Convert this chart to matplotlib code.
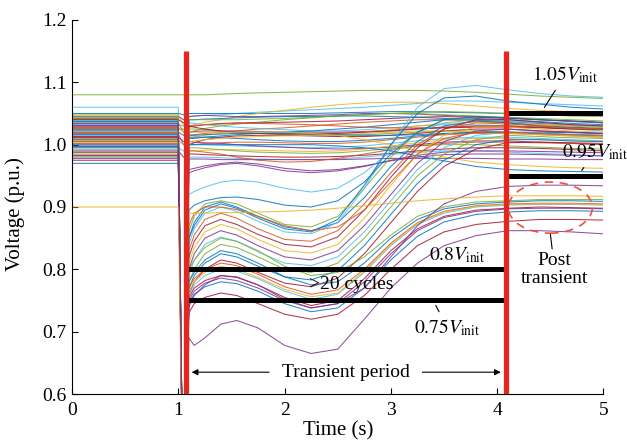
import matplotlib.pyplot as plt
from matplotlib.patches import Ellipse

plt.rcParams["font.family"] = "Liberation Serif"
plt.rcParams["mathtext.fontset"] = "stix"

# MATLAB default line colours
PALETTE = {"b": "#0072BD", "o": "#D95319", "y": "#EDB120", "p": "#7E2F8E",
           "g": "#77AC30", "c": "#4DBEEE", "r": "#A2142F"}

# sample times: steady state, fault inception, fault bottom, then recovery
T_PRE = [0.0, 1.0, 1.05]
T_POST = [1.1, 1.15, 1.25, 1.4, 1.55, 1.75, 2.0, 2.25, 2.5, 2.75,
          3.0, 3.25, 3.5, 3.8, 4.1, 4.4, 4.7, 5.0]

# buses that stay inside the normal band
HIGH_COLOR = "cbypgrbocpygrbocpygrbocpygrb"
HIGH_PRE = [1.06, 1.05, 1.048, 1.045, 1.042, 1.04, 1.037, 1.035, 1.032, 1.03,
            1.027, 1.025, 1.022, 1.02, 1.017, 1.015, 1.012, 1.01, 1.007, 1.005,
            1.0, 0.997, 0.995, 0.99, 0.985, 0.98, 0.975, 0.97]
HIGH_DIP = [0.35, 1.048, 1.03, 1.04, 0.35, 1.035, 0.35, 1.02, 1.03, 0.35,
            1.02, 1.025, 0.35, 1.015, 1.0, 0.35, 1.005, 0.35, 1.0, 0.35,
            0.35, 0.35, 0.99, 0.98, 0.35, 0.35, 0.35, 0.35]
HIGH_POST = [
    [1.045, 1.046, 1.047, 1.048, 1.05, 1.052, 1.054, 1.056, 1.058, 1.06, 1.063, 1.066, 1.07, 1.07, 1.068, 1.066, 1.064, 1.062],
    [1.05, 1.05, 1.05, 1.05, 1.05, 1.05, 1.05, 1.05, 1.051, 1.052, 1.053, 1.053, 1.052, 1.051, 1.05, 1.049, 1.048, 1.048],
    [1.03, 1.032, 1.036, 1.04, 1.045, 1.05, 1.055, 1.06, 1.064, 1.067, 1.068, 1.068, 1.066, 1.062, 1.058, 1.055, 1.053, 1.05],
    [1.045, 1.046, 1.047, 1.046, 1.045, 1.045, 1.046, 1.047, 1.048, 1.05, 1.05, 1.049, 1.047, 1.045, 1.043, 1.04, 1.038, 1.036],
    [1.02, 1.022, 1.026, 1.03, 1.033, 1.036, 1.04, 1.043, 1.046, 1.048, 1.05, 1.052, 1.053, 1.052, 1.05, 1.048, 1.046, 1.045],
    [1.03, 1.03, 1.032, 1.034, 1.035, 1.035, 1.036, 1.037, 1.038, 1.04, 1.042, 1.044, 1.045, 1.044, 1.042, 1.04, 1.038, 1.035],
    [1.04, 1.04, 1.041, 1.042, 1.043, 1.044, 1.045, 1.045, 1.046, 1.046, 1.045, 1.044, 1.042, 1.04, 1.037, 1.034, 1.032, 1.03],
    [1.015, 1.016, 1.018, 1.02, 1.022, 1.025, 1.027, 1.03, 1.033, 1.036, 1.038, 1.04, 1.04, 1.038, 1.035, 1.032, 1.03, 1.028],
    [1.035, 1.034, 1.032, 1.03, 1.028, 1.026, 1.024, 1.022, 1.022, 1.024, 1.027, 1.03, 1.032, 1.032, 1.03, 1.028, 1.025, 1.022],
    [1.02, 1.021, 1.022, 1.022, 1.022, 1.021, 1.02, 1.02, 1.02, 1.021, 1.023, 1.026, 1.028, 1.03, 1.03, 1.028, 1.026, 1.025],
    [1.01, 1.012, 1.015, 1.018, 1.02, 1.02, 1.019, 1.018, 1.018, 1.02, 1.024, 1.03, 1.034, 1.036, 1.035, 1.032, 1.03, 1.028],
    [1.025, 1.025, 1.024, 1.022, 1.02, 1.018, 1.016, 1.015, 1.015, 1.016, 1.018, 1.02, 1.022, 1.022, 1.02, 1.018, 1.016, 1.015],
    [1.0, 1.003, 1.008, 1.012, 1.014, 1.015, 1.015, 1.014, 1.013, 1.013, 1.015, 1.018, 1.022, 1.025, 1.025, 1.022, 1.02, 1.018],
    [1.012, 1.012, 1.012, 1.011, 1.01, 1.008, 1.006, 1.005, 1.005, 1.007, 1.01, 1.014, 1.017, 1.02, 1.02, 1.018, 1.016, 1.014],
    [1.0, 1.0, 1.002, 1.003, 1.004, 1.004, 1.003, 1.002, 1.002, 1.004, 1.008, 1.012, 1.016, 1.018, 1.018, 1.016, 1.014, 1.012],
    [1.0, 1.0, 1.0, 0.999, 0.998, 0.997, 0.996, 0.995, 0.996, 0.998, 1.002, 1.006, 1.01, 1.012, 1.012, 1.01, 1.008, 1.006],
    [1.005, 1.004, 1.003, 1.002, 1.0, 0.998, 0.996, 0.994, 0.993, 0.994, 0.996, 1.0, 1.004, 1.006, 1.006, 1.004, 1.002, 1.0],
    [0.99, 0.99, 0.991, 0.992, 0.992, 0.991, 0.99, 0.989, 0.99, 0.993, 0.998, 1.003, 1.008, 1.01, 1.01, 1.008, 1.006, 1.005],
    [0.995, 0.995, 0.994, 0.992, 0.99, 0.988, 0.987, 0.986, 0.987, 0.99, 0.994, 0.998, 1.0, 1.0, 0.998, 0.996, 0.994, 0.993],
    [0.985, 0.985, 0.984, 0.983, 0.982, 0.981, 0.98, 0.98, 0.981, 0.983, 0.986, 0.99, 0.993, 0.995, 0.995, 0.994, 0.992, 0.99],
    [1.01, 1.01, 1.012, 1.014, 1.016, 1.018, 1.02, 1.022, 1.025, 1.028, 1.032, 1.036, 1.04, 1.042, 1.04, 1.037, 1.034, 1.032],
    [1.028, 1.03, 1.032, 1.033, 1.034, 1.034, 1.033, 1.032, 1.03, 1.028, 1.027, 1.027, 1.028, 1.03, 1.03, 1.028, 1.027, 1.025],
    [0.98, 0.98, 0.98, 0.979, 0.978, 0.977, 0.976, 0.976, 0.977, 0.98, 0.984, 0.988, 0.99, 0.99, 0.988, 0.986, 0.984, 0.982],
    [0.977, 0.977, 0.977, 0.976, 0.976, 0.976, 0.976, 0.976, 0.976, 0.977, 0.978, 0.978, 0.978, 0.978, 0.977, 0.977, 0.976, 0.976],
    [1.005, 1.006, 1.008, 1.01, 1.012, 1.013, 1.014, 1.015, 1.016, 1.018, 1.02, 1.022, 1.022, 1.02, 1.018, 1.016, 1.014, 1.012],
    [1.04, 1.04, 1.04, 1.04, 1.04, 1.041, 1.042, 1.044, 1.046, 1.048, 1.05, 1.05, 1.048, 1.046, 1.044, 1.042, 1.04, 1.038],
    [1.03, 1.028, 1.025, 1.022, 1.02, 1.018, 1.017, 1.017, 1.018, 1.02, 1.022, 1.025, 1.027, 1.028, 1.028, 1.027, 1.025, 1.024],
    [1.015, 1.015, 1.016, 1.017, 1.018, 1.018, 1.018, 1.017, 1.016, 1.015, 1.015, 1.016, 1.018, 1.02, 1.02, 1.02, 1.019, 1.018],
]

# buses with a shallow sag
MID_COLOR = "ppocby"
MID_PRE = [1.002, 1.028, 1.018, 1.044, 1.008, 0.992]
MID_DIP = [0.35, 0.35, 0.35, 0.35, 0.35, 0.35]
MID_POST = [
    [0.955, 0.958, 0.963, 0.968, 0.97, 0.966, 0.958, 0.955, 0.958, 0.965, 0.975, 0.983, 0.988, 0.99, 0.99, 0.989, 0.988, 0.987],
    [0.96, 0.962, 0.966, 0.97, 0.972, 0.969, 0.962, 0.958, 0.96, 0.966, 0.974, 0.98, 0.984, 0.985, 0.985, 0.984, 0.983, 0.982],
    [0.99, 0.99, 0.988, 0.985, 0.98, 0.975, 0.972, 0.973, 0.978, 0.985, 0.992, 0.998, 1.002, 1.004, 1.004, 1.003, 1.002, 1.0],
    [0.92, 0.925, 0.932, 0.94, 0.943, 0.94, 0.93, 0.924, 0.93, 0.955, 0.99, 1.02, 1.035, 1.04, 1.038, 1.035, 1.032, 1.03],
    [1.0, 1.0, 1.0, 1.0, 1.0, 1.0, 1.0, 1.0, 0.998, 0.995, 0.99, 0.982, 0.974, 0.965, 0.96, 0.958, 0.957, 0.956],
    [1.02, 1.02, 1.02, 1.02, 1.02, 1.02, 1.02, 1.018, 1.015, 1.008, 1.0, 0.99, 0.98, 0.972, 0.968, 0.965, 0.963, 0.962],
]

# deep sag, full recovery
UP_COLOR = "gbcborypcgbrob"
UP_PRE = [1.046, 1.038, 1.033, 1.024, 1.019, 1.013, 1.006, 0.998, 0.993, 0.987,
          0.982, 1.041, 1.029, 1.016]
UP_DIP = [0.35] * 14
UP_POST = [
    [0.86, 0.885, 0.905, 0.91, 0.905, 0.89, 0.872, 0.868, 0.885, 0.93, 0.98, 1.02, 1.04, 1.04, 1.035, 1.03, 1.027, 1.025],
    [0.85, 0.875, 0.9, 0.908, 0.9, 0.885, 0.868, 0.862, 0.875, 0.915, 0.965, 1.005, 1.03, 1.038, 1.035, 1.03, 1.028, 1.026],
    [0.84, 0.865, 0.89, 0.9, 0.893, 0.877, 0.86, 0.857, 0.875, 0.93, 1.0, 1.06, 1.09, 1.095, 1.088, 1.082, 1.078, 1.076],
    [0.85, 0.87, 0.895, 0.905, 0.898, 0.882, 0.865, 0.86, 0.88, 0.935, 1.0, 1.05, 1.075, 1.078, 1.07, 1.065, 1.06, 1.057],
    [0.83, 0.855, 0.88, 0.89, 0.882, 0.865, 0.848, 0.845, 0.862, 0.905, 0.955, 1.0, 1.025, 1.035, 1.033, 1.03, 1.027, 1.025],
    [0.82, 0.845, 0.87, 0.88, 0.872, 0.856, 0.84, 0.836, 0.852, 0.895, 0.948, 0.995, 1.025, 1.04, 1.04, 1.036, 1.032, 1.03],
    [0.81, 0.835, 0.86, 0.872, 0.865, 0.848, 0.83, 0.826, 0.84, 0.882, 0.935, 0.985, 1.015, 1.028, 1.028, 1.025, 1.022, 1.02],
    [0.8, 0.825, 0.85, 0.862, 0.855, 0.838, 0.82, 0.815, 0.83, 0.87, 0.92, 0.97, 1.005, 1.022, 1.025, 1.022, 1.02, 1.018],
    [0.79, 0.815, 0.84, 0.852, 0.845, 0.828, 0.81, 0.806, 0.82, 0.86, 0.91, 0.96, 0.995, 1.015, 1.02, 1.018, 1.016, 1.015],
    [0.78, 0.8, 0.825, 0.84, 0.835, 0.82, 0.8, 0.795, 0.81, 0.85, 0.9, 0.95, 0.985, 1.008, 1.015, 1.013, 1.011, 1.01],
    [0.77, 0.79, 0.81, 0.825, 0.82, 0.805, 0.788, 0.783, 0.798, 0.838, 0.888, 0.938, 0.975, 1.0, 1.008, 1.008, 1.006, 1.005],
    [0.76, 0.78, 0.8, 0.815, 0.81, 0.795, 0.778, 0.772, 0.786, 0.825, 0.875, 0.925, 0.965, 0.993, 1.003, 1.004, 1.003, 1.002],
    [0.87, 0.89, 0.9, 0.9, 0.896, 0.885, 0.87, 0.862, 0.868, 0.895, 0.94, 0.985, 1.01, 1.02, 1.02, 1.018, 1.016, 1.015],
    [0.895, 0.903, 0.91, 0.915, 0.916, 0.912, 0.903, 0.9, 0.91, 0.94, 0.985, 1.02, 1.04, 1.045, 1.043, 1.04, 1.037, 1.035],
]

# deep sag, settles around 0.9 p.u.
LOW_COLOR = "gbocrybprp"
LOW_PRE = [1.043, 1.034, 1.026, 1.021, 1.011, 1.003, 0.996, 0.988, 0.983, 0.978]
LOW_DIP = [0.35] * 10
LOW_POST = [
    [0.8, 0.815, 0.835, 0.85, 0.845, 0.83, 0.805, 0.79, 0.795, 0.82, 0.855, 0.885, 0.9, 0.908, 0.91, 0.912, 0.912, 0.912],
    [0.78, 0.795, 0.815, 0.83, 0.825, 0.81, 0.788, 0.775, 0.78, 0.81, 0.85, 0.88, 0.897, 0.905, 0.908, 0.91, 0.91, 0.909],
    [0.77, 0.785, 0.8, 0.81, 0.806, 0.792, 0.772, 0.76, 0.767, 0.8, 0.842, 0.875, 0.893, 0.902, 0.905, 0.906, 0.906, 0.905],
    [0.76, 0.775, 0.79, 0.8, 0.797, 0.785, 0.765, 0.752, 0.76, 0.795, 0.838, 0.872, 0.89, 0.9, 0.903, 0.904, 0.904, 0.903],
    [0.755, 0.77, 0.782, 0.79, 0.787, 0.775, 0.755, 0.742, 0.75, 0.785, 0.83, 0.865, 0.885, 0.895, 0.898, 0.9, 0.899, 0.898],
    [0.765, 0.78, 0.795, 0.805, 0.8, 0.787, 0.768, 0.756, 0.762, 0.797, 0.84, 0.874, 0.892, 0.901, 0.904, 0.905, 0.905, 0.904],
    [0.745, 0.76, 0.772, 0.78, 0.777, 0.765, 0.745, 0.732, 0.738, 0.77, 0.815, 0.853, 0.876, 0.888, 0.892, 0.894, 0.894, 0.893],
    [0.75, 0.765, 0.778, 0.786, 0.782, 0.77, 0.75, 0.738, 0.745, 0.78, 0.825, 0.862, 0.883, 0.893, 0.897, 0.898, 0.898, 0.897],
    [0.73, 0.745, 0.755, 0.762, 0.758, 0.745, 0.728, 0.72, 0.728, 0.758, 0.8, 0.838, 0.86, 0.872, 0.877, 0.88, 0.88, 0.879],
    [0.74, 0.758, 0.775, 0.79, 0.788, 0.775, 0.752, 0.738, 0.745, 0.77, 0.82, 0.87, 0.905, 0.925, 0.933, 0.935, 0.935, 0.934],
]

# odd ones: 1.08 p.u. bus, 0.9 p.u. bus, weakest bus
ODD_COLOR = "gyp"
ODD_PRE = [1.08, 0.9, 1.031]
ODD_DIP = [1.08, 0.35, 0.35]
ODD_POST = [
    [1.08, 1.08, 1.08, 1.081, 1.082, 1.083, 1.084, 1.085, 1.086, 1.087, 1.087, 1.087, 1.086, 1.084, 1.081, 1.078, 1.076, 1.074],
    [0.89, 0.89, 0.89, 0.891, 0.891, 0.892, 0.893, 0.895, 0.898, 0.902, 0.906, 0.91, 0.913, 0.916, 0.918, 0.918, 0.918, 0.917],
    [0.69, 0.678, 0.69, 0.712, 0.718, 0.706, 0.678, 0.665, 0.672, 0.72, 0.77, 0.81, 0.838, 0.854, 0.862, 0.862, 0.86, 0.857],
]

# limits
CLEAR_TIMES = [1.075, 4.08]
TRANSIENT_LIMITS = [0.8, 0.75]
POST_LIMITS = [1.05, 0.95]


fig = plt.figure(figsize=(6.27, 4.44), dpi=100)
ax = fig.add_axes([0.1148, 0.1126, 0.8477, 0.8424])


def draw_group(colors, pre, dip, post):
    for c, v0, vd, vp in zip(colors, pre, dip, post):
        ax.plot(T_PRE + T_POST, [v0, v0, vd] + vp, color=PALETTE[c],
                lw=0.75, alpha=0.85)


draw_group(HIGH_COLOR, HIGH_PRE, HIGH_DIP, HIGH_POST)
draw_group(MID_COLOR, MID_PRE, MID_DIP, MID_POST)
draw_group(UP_COLOR, UP_PRE, UP_DIP, UP_POST)
draw_group(LOW_COLOR, LOW_PRE, LOW_DIP, LOW_POST)
draw_group(ODD_COLOR, ODD_PRE, ODD_DIP, ODD_POST)

ax.hlines(TRANSIENT_LIMITS, 1.09, 4.06, color="black", lw=3.6, zorder=4)
ax.hlines(POST_LIMITS, 4.1, 5.0, color="black", lw=3.6, zorder=4)
ax.vlines(CLEAR_TIMES, 0.6, 1.15, color="#E3261E", lw=3.8, zorder=5)

ax.add_patch(Ellipse((4.5, 0.899), 0.79, 0.082, fill=False, ec="#E8553E",
                     lw=1.2, ls=(0, (5, 4)), zorder=6))

ax.set_xlim(0, 5)
ax.set_ylim(0.6, 1.2)
ax.set_xticks([0, 1, 2, 3, 4, 5])
ax.set_yticks([0.6, 0.7, 0.8, 0.9, 1.0, 1.1, 1.2])
ax.set_yticklabels(["0.6", "0.7", "0.8", "0.9", "1.0", "1.1", "1.2"])
ax.tick_params(direction="in", length=4, width=0.8, labelsize=14)
ax.tick_params(axis="x", pad=6)
ax.tick_params(axis="y", pad=4)
for side in ["top", "right"]:
    ax.spines[side].set_visible(False)

ax.set_xlabel("Time (s)", fontsize=15)
ax.set_ylabel("Voltage (p.u.)", fontsize=15)
ax.xaxis.set_label_coords(0.5, -0.072)
ax.yaxis.set_label_coords(-0.088, 0.48)

# annotations
lead = dict(arrowstyle="-", color="black", lw=0.8)
ax.annotate(r"$1.05V_{\mathrm{init}}$", xy=(4.43, 1.056), xytext=(4.64, 1.112),
            fontsize=14, ha="center", va="center", arrowprops=lead)
ax.annotate(r"$0.95V_{\mathrm{init}}$", xy=(4.78, 0.955), xytext=(4.92, 0.988),
            fontsize=14, ha="center", va="center", arrowprops=lead,
            annotation_clip=False)
ax.annotate(r"$0.8V_{\mathrm{init}}$", xy=(3.25, 0.8), xytext=(3.62, 0.823),
            fontsize=14, ha="center", va="center", arrowprops=lead)
ax.annotate(r"$0.75V_{\mathrm{init}}$", xy=(3.41, 0.746), xytext=(3.53, 0.707),
            fontsize=14, ha="center", va="center", arrowprops=lead)
ax.text(2.63, 0.775, ">20 cycles", fontsize=14, ha="center", va="center")
ax.annotate("Post\ntransient", xy=(4.5, 0.857), xytext=(4.54, 0.80),
            fontsize=14, ha="center", va="center", linespacing=1.1,
            arrowprops=dict(arrowstyle="-", color="black", lw=0.8,
                            shrinkB=0, shrinkA=18))

ax.text(2.58, 0.635, "Transient period", fontsize=14, ha="center", va="center")
head = dict(arrowstyle="-|>", color="black", lw=0.8, mutation_scale=9)
ax.annotate("", xy=(1.1, 0.635), xytext=(1.88, 0.635), arrowprops=head)
ax.annotate("", xy=(4.06, 0.635), xytext=(3.27, 0.635), arrowprops=head)

fig.savefig("out.png", dpi=100)
